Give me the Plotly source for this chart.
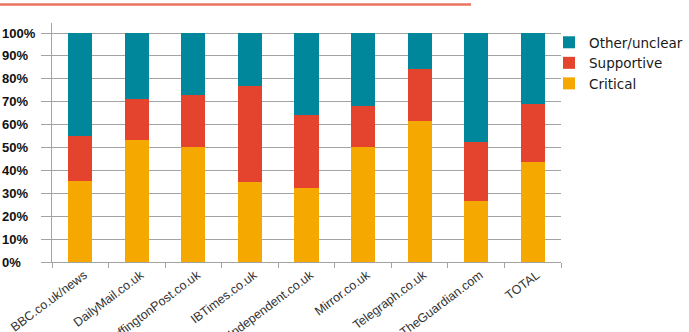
import plotly.graph_objects as go

categories = ["BBC.co.uk/news", "DailyMail.co.uk", "HuffingtonPost.co.uk", "IBTimes.co.uk",
              "Independent.co.uk", "Mirror.co.uk", "Telegraph.co.uk", "TheGuardian.com", "TOTAL"]
critical = [35.5, 53.3, 50.1, 34.8, 32.5, 50.1, 61.4, 26.8, 43.8]
supportive = [19.7, 18.0, 23.0, 42.1, 31.6, 18.2, 22.7, 25.5, 25.2]
other = [100 - c - s for c, s in zip(critical, supportive)]
y_tick_vals = [0, 10, 20, 30, 40, 50, 60, 70, 80, 90, 100]
y_tick_labels = [f"{v}%" for v in y_tick_vals]

c_crit = "#f5a800"
c_supp = "#e4432d"
c_other = "#00879b"

fig = go.Figure()
fig.add_trace(go.Bar(x=categories, y=critical, name="Critical", marker=dict(color=c_crit, line=dict(width=0))))
fig.add_trace(go.Bar(x=categories, y=supportive, name="Supportive", marker=dict(color=c_supp, line=dict(width=0))))
fig.add_trace(go.Bar(x=categories, y=other, name="Other/unclear", marker=dict(color=c_other, line=dict(width=0))))

W, H = 689, 332
L, R, T, B = 52, 128, 23, 70
pw = W - L - R
ph = H - T - B

grid = "#a3a3a3"
fig.update_layout(
    width=W, height=H,
    margin=dict(l=L, r=R, t=T, b=B, pad=0, autoexpand=False),
    barmode="stack", bargap=0.575,
    paper_bgcolor="white", plot_bgcolor="white",
    showlegend=True,
    legend=dict(traceorder="reversed", x=(549 - L) / pw, xanchor="left",
                y=(H - B - 27) / ph, yanchor="top",
                font=dict(family="DejaVu Sans", size=13.5, color="#1a1a1a"),
                bgcolor="rgba(0,0,0,0)", borderwidth=0, tracegroupgap=0),
    xaxis=dict(tickson="boundaries", ticks="outside", ticklen=5, tickcolor=grid,
               showline=True, linecolor=grid, linewidth=1, showgrid=False, automargin=False,
               tickangle=-37, ticklabelshift=4,
               tickfont=dict(family="Liberation Sans, Arial, sans-serif", size=12.5, color="#333"),
               range=[-0.5, 8.5]),
    yaxis=dict(range=[0, 104.4], tickvals=y_tick_vals, showticklabels=False, automargin=False,
               ticks="outside", ticklen=10, tickcolor=grid, showgrid=True, gridcolor=grid,
               gridwidth=1, showline=True, linecolor=grid, linewidth=1, zeroline=False),
    shapes=[dict(type="line", xref="paper", yref="paper",
                 x0=-L / pw, x1=(471 - L) / pw, y0=(H - B - 4.5) / ph, y1=(H - B - 4.5) / ph,
                 line=dict(color="#e8745f", width=2.5))],
)

for v, lab in zip(y_tick_vals, y_tick_labels):
    fig.add_annotation(x=-L / pw, xref="paper", xanchor="left", y=v, yref="y", yanchor="middle",
                       text=f"<b>{lab}</b>", showarrow=False,
                       font=dict(family="Liberation Sans, Arial, sans-serif", size=13, color="#111"))

fig.write_html("out.html")
